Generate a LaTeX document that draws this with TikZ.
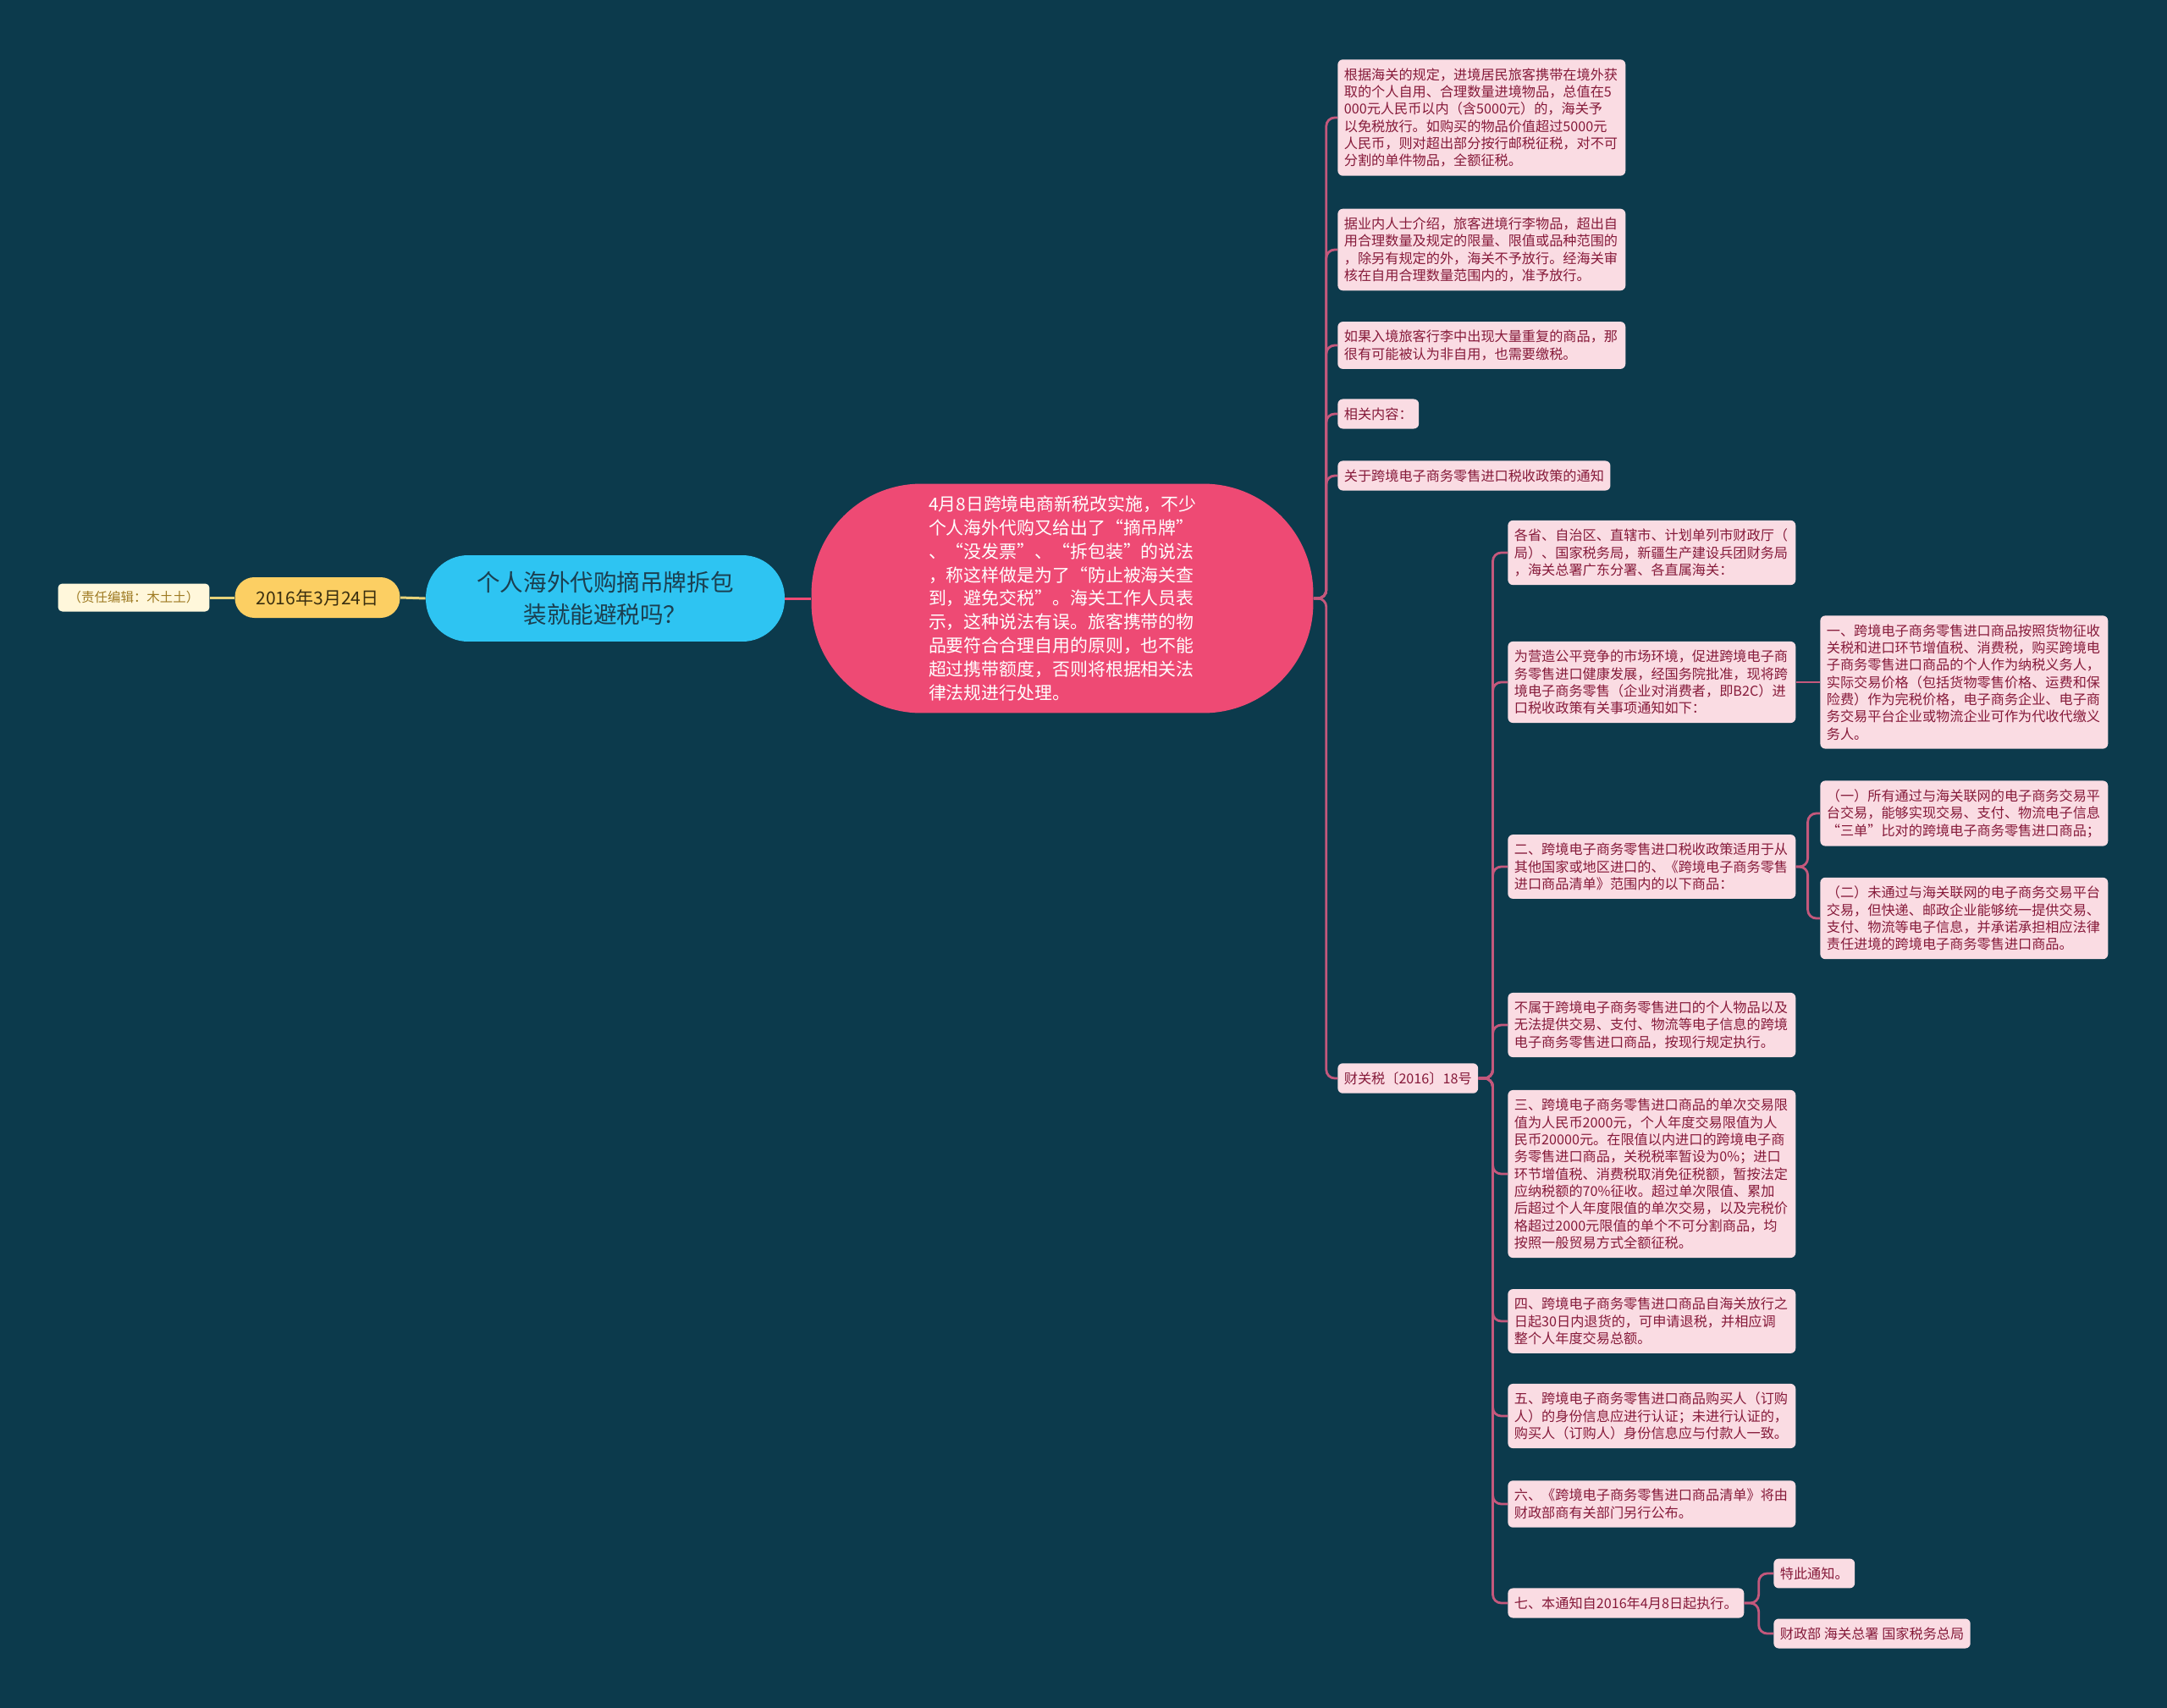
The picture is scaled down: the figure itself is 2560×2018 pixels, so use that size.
\documentclass[tikz,border=0pt]{standalone}
\usepackage{fontspec}
\setmainfont{Noto Sans CJK SC}
\definecolor{bgcol}{HTML}{0C3A4C}
\definecolor{leaffill}{HTML}{FADCE3}
\definecolor{leaftext}{HTML}{861A3A}
\definecolor{linkcol}{HTML}{C4587C}
\definecolor{mainpink}{HTML}{EE4A74}
\definecolor{titleblue}{HTML}{2EC4F2}
\definecolor{titletext}{HTML}{1B3F50}
\definecolor{dateyellow}{HTML}{FCCF63}
\definecolor{datetext}{HTML}{3A2F10}
\definecolor{editfill}{HTML}{FFF7DB}
\definecolor{edittext}{HTML}{9E7A22}
\definecolor{yellowlink}{HTML}{E6D27A}
\tikzset{
  leaf/.style={fill=leaffill, text=leaftext, rounded corners=0.12cm, anchor=west,
    inner xsep=0.15cm, inner ysep=0.2cm, align=left, font=\fontsize{9.2pt}{11.6pt}\selectfont},
  wide/.style={leaf, text width=6.5cm},
  link/.style={draw=linkcol, line width=1.6pt, rounded corners=0.2cm},
  mainlink/.style={draw=mainpink, line width=1.7pt},
  datelink/.style={draw=yellowlink, line width=1.7pt}
}
\begin{document}
\begin{tikzpicture}[x=0.02cm,y=-0.02cm]
    \useasboundingbox (0,0) rectangle (2560,2018);
    \fill [bgcol] (0,0) rectangle (2560,2018);
    % left part
    \node [fill=editfill, text=edittext, rounded corners=0.1cm, minimum width=3.58cm, minimum height=0.66cm,
      inner sep=0pt, font=\fontsize{8.8pt}{10pt}\selectfont] (editor) at (158,706) {（责任编辑：木土土）};
    \node [fill=dateyellow, text=datetext, rounded corners=0.46cm, minimum width=3.9cm, minimum height=0.96cm,
      inner sep=0pt, font=\fontsize{12pt}{14pt}\selectfont] (date) at (375,706) {2016年3月24日};
    \node [fill=titleblue, text=titletext, rounded corners=1cm, minimum width=8.48cm, minimum height=2.04cm,
      inner sep=0pt, align=center, font=\fontsize{15.7pt}{21.3pt}\selectfont] (title) at (715,707)
      {个人海外代购摘吊牌拆包\\装就能避税吗？};
    \node [fill=mainpink, text=white, rounded corners=2.6cm, minimum width=11.86cm, minimum height=5.42cm,
      inner sep=0pt, align=left, font=\fontsize{11.9pt}{15.8pt}\selectfont] (main) at (1255,707)
      {4月8日跨境电商新税改实施，不少\\个人海外代购又给出了“摘吊牌”\\、“没发票”、“拆包装”的说法\\，称这样做是为了“防止被海关查\\到，避免交税”。海关工作人员表\\示，这种说法有误。旅客携带的物\\品要符合合理自用的原则，也不能\\超过携带额度，否则将根据相关法\\律法规进行处理。};
    % first column
    \node [wide] (l1) at (1580,139) {根据海关的规定，进境居民旅客携带在境外获\\取的个人自用、合理数量进境物品，总值在5\\000元人民币以内（含5000元）的，海关予\\以免税放行。如购买的物品价值超过5000元\\人民币，则对超出部分按行邮税征税，对不可\\分割的单件物品，全额征税。};
    \node [wide] (l2) at (1580,295) {据业内人士介绍，旅客进境行李物品，超出自\\用合理数量及规定的限量、限值或品种范围的\\，除另有规定的外，海关不予放行。经海关审\\核在自用合理数量范围内的，准予放行。};
    \node [wide] (l3) at (1580,408) {如果入境旅客行李中出现大量重复的商品，那\\很有可能被认为非自用，也需要缴税。};
    \node [leaf] (l4) at (1580,489) {相关内容：};
    \node [leaf] (l5) at (1580,562) {关于跨境电子商务零售进口税收政策的通知};
    \node [leaf] (law) at (1580,1274) {财关税〔2016〕18号};
    % second column
    \node [wide] (c1) at (1781,653) {各省、自治区、直辖市、计划单列市财政厅（\\局）、国家税务局，新疆生产建设兵团财务局\\，海关总署广东分署、各直属海关：};
    \node [wide] (c2) at (1781,806) {为营造公平竞争的市场环境，促进跨境电子商\\务零售进口健康发展，经国务院批准，现将跨\\境电子商务零售（企业对消费者，即B2C）进\\口税收政策有关事项通知如下：};
    \node [wide] (c3) at (1781,1024) {二、跨境电子商务零售进口税收政策适用于从\\其他国家或地区进口的、《跨境电子商务零售\\进口商品清单》范围内的以下商品：};
    \node [wide] (c4) at (1781,1211) {不属于跨境电子商务零售进口的个人物品以及\\无法提供交易、支付、物流等电子信息的跨境\\电子商务零售进口商品，按现行规定执行。};
    \node [wide] (c5) at (1781,1387) {三、跨境电子商务零售进口商品的单次交易限\\值为人民币2000元，个人年度交易限值为人\\民币20000元。在限值以内进口的跨境电子商\\务零售进口商品，关税税率暂设为0\%；进口\\环节增值税、消费税取消免征税额，暂按法定\\应纳税额的70\%征收。超过单次限值、累加\\后超过个人年度限值的单次交易，以及完税价\\格超过2000元限值的单个不可分割商品，均\\按照一般贸易方式全额征税。};
    \node [wide] (c6) at (1781,1561) {四、跨境电子商务零售进口商品自海关放行之\\日起30日内退货的，可申请退税，并相应调\\整个人年度交易总额。};
    \node [wide] (c7) at (1781,1673) {五、跨境电子商务零售进口商品购买人（订购\\人）的身份信息应进行认证；未进行认证的，\\购买人（订购人）身份信息应与付款人一致。};
    \node [wide] (c8) at (1781,1777) {六、《跨境电子商务零售进口商品清单》将由\\财政部商有关部门另行公布。};
    \node [leaf] (c9) at (1781,1894) {七、本通知自2016年4月8日起执行。};
    % third column
    \node [wide] (g1) at (2150,806) {一、跨境电子商务零售进口商品按照货物征收\\关税和进口环节增值税、消费税，购买跨境电\\子商务零售进口商品的个人作为纳税义务人，\\实际交易价格（包括货物零售价格、运费和保\\险费）作为完税价格，电子商务企业、电子商\\务交易平台企业或物流企业可作为代收代缴义\\务人。};
    \node [wide] (g2) at (2150,961) {（一）所有通过与海关联网的电子商务交易平\\台交易，能够实现交易、支付、物流电子信息\\“三单”比对的跨境电子商务零售进口商品；};
    \node [wide] (g3) at (2150,1085) {（二）未通过与海关联网的电子商务交易平台\\交易，但快递、邮政企业能够统一提供交易、\\支付、物流等电子信息，并承诺承担相应法律\\责任进境的跨境电子商务零售进口商品。};
    \node [leaf] (g4) at (2095,1859) {特此通知。};
    \node [leaf] (g5) at (2095,1930) {财政部 海关总署 国家税务总局};
    % connectors
    \draw [datelink] (title.west) -- (date.east);
    \draw [datelink] (date.west) -- (editor.east);
    \draw [mainlink] (title.east) -- (main.west);
    \foreach \n in {l1,l2,l3,l4,l5,law}
      \draw [link] (main.east) -- ++(0.3cm,0) |- (\n.west);
    \foreach \n in {c1,c2,c3,c4,c5,c6,c7,c8,c9}
      \draw [link] (law.east) -- ++(0.34cm,0) |- (\n.west);
    \draw [link] (c2.east) -- (g1.west);
    \foreach \n in {g2,g3}
      \draw [link] (c3.east) -- ++(0.28cm,0) |- (\n.west);
    \foreach \n in {g4,g5}
      \draw [link] (c9.east) -- ++(0.34cm,0) |- (\n.west);
\end{tikzpicture}
\end{document}
